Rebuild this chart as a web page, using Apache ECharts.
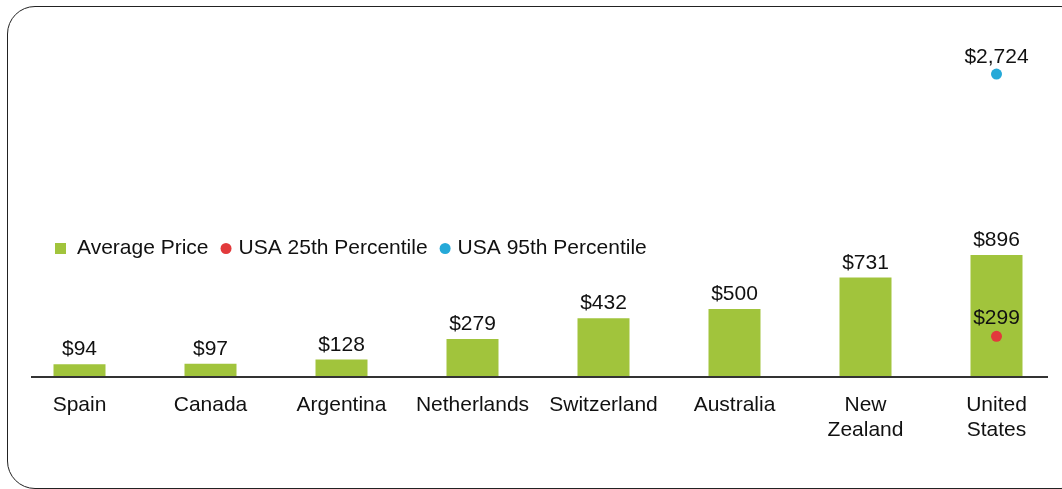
<!DOCTYPE html>
<html>
<head>
<meta charset="utf-8">
<script src="https://cdn.jsdelivr.net/npm/echarts@6/dist/echarts.min.js"></script>
<style>
	html, body { margin: 0; padding: 0; background: #fff; }
	#wrap { position: relative; width: 1062px; height: 489px; overflow: hidden; }
	#frame { position: absolute; left: 7px; top: 6px; width: 1080px; height: 481px; border: 1.5px solid #222; border-radius: 28px; }
	#chart { position: absolute; left: 0; top: 0; width: 1062px; height: 489px; }
</style>
</head>
<body>
<div id="wrap">
	<div id="frame"></div>
	<div id="chart"></div>
</div>
<script>
var countries = ['Spain', 'Canada', 'Argentina', 'Netherlands', 'Switzerland', 'Australia', 'New\nZealand', 'United\nStates'];
var avgPrice = [94, 97, 128, 279, 432, 500, 731, 896];
var usa25th = [null, null, null, null, null, null, null, 299];
var usa95th = [null, null, null, null, null, null, null, 2724];

var green = '#a1c43c',
	red = '#e23a3c',
	blue = '#25a9d8';

function money(v) {
	return '$' + String(v).replace(/\B(?=(\d{3})+(?!\d))/g, ',');
}

function setChart() {
	var font = 'Liberation Sans';
	var labelText = {
		color: '#111',
		fontSize: 21,
		fontFamily: font
	};
	var chartOption = {
		animation: false,
		grid: {
			left: 14,
			right: 0,
			top: 40,
			bottom: 112
		},
		// baseline drawn separately: it is shorter than the category band
		graphic: [{
			type: 'line',
			shape: {x1: 31, y1: 377, x2: 1048, y2: 377},
			style: {stroke: '#333', lineWidth: 2},
			z: 10
		}],
		legend: {
			left: 50,
			top: 233,
			itemGap: 12,
			itemWidth: 11,
			itemHeight: 11,
			textStyle: {
				color: '#111',
				fontSize: 21,
				fontFamily: font,
				padding: [0, 0, 0, 2]
			},
			data: [
				{name: 'Average Price', icon: 'rect', textStyle: {padding: [0, 0, 0, 6]}},
				{name: 'USA 25th Percentile', icon: 'circle'},
				{name: 'USA 95th Percentile', icon: 'circle'}
			]
		},
		xAxis: [{
			type: 'category',
			data: countries,
			axisTick: {show: false},
			axisLine: {show: false},
			axisLabel: {
				color: '#111',
				fontSize: 21,
				fontFamily: font,
				lineHeight: 25,
				margin: 16,
				interval: 0
			}
		}],
		yAxis: [{
			type: 'value',
			min: 0,
			max: 2475,
			show: false,
			splitLine: {show: false}
		}, {
			// the 95th percentile point sits on its own compressed scale
			type: 'value',
			min: 0,
			max: 3030,
			show: false,
			splitLine: {show: false}
		}],
		series: [{
			name: 'Average Price',
			type: 'bar',
			data: avgPrice,
			barWidth: 52,
			itemStyle: {color: green},
			label: Object.assign({
				show: true,
				position: 'top',
				distance: 4,
				formatter: function(p) { return money(p.value); }
			}, labelText)
		}, {
			name: 'USA 25th Percentile',
			type: 'scatter',
			data: usa25th,
			symbolSize: 11,
			itemStyle: {color: red, opacity: 1},
			label: Object.assign({
				show: true,
				position: 'top',
				distance: 2,
				formatter: function(p) { return money(p.value); }
			}, labelText)
		}, {
			name: 'USA 95th Percentile',
			type: 'scatter',
			yAxisIndex: 1,
			data: usa95th,
			symbolSize: 11,
			itemStyle: {color: blue, opacity: 1},
			label: Object.assign({
				show: true,
				position: 'top',
				distance: 1,
				formatter: function(p) { return money(p.value); }
			}, labelText)
		}]
	};
	var chart = echarts.init(document.getElementById('chart'));
	chart.setOption(chartOption);
}

setChart();
</script>
</body>
</html>
